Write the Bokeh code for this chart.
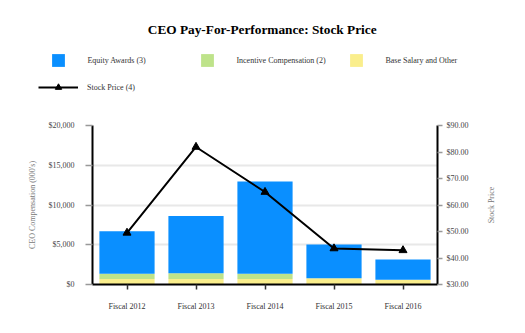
import math
from bokeh.plotting import figure
from bokeh.layouts import column, row
from bokeh.models import (ColumnDataSource, Range1d, LinearAxis, SingleIntervalTicker,
                          NumeralTickFormatter, Legend, LegendItem, Label)
from bokeh.embed import file_html
from bokeh.resources import INLINE

categories = ["Fiscal 2012", "Fiscal 2013", "Fiscal 2014", "Fiscal 2015", "Fiscal 2016"]
base_salary = [700, 700, 700, 800, 600]
incentive = [650, 700, 650, 0, 0]
equity = [5350, 7230, 11600, 4230, 2540]
stock_price = [49.5, 81.9, 64.9, 43.6, 42.9]

FONT = "Liberation Serif"
BLUE = "#0A8FFF"
GREEN = "#BEE38A"
YELLOW = "#FAEE8C"

source = ColumnDataSource(data=dict(cat=categories, base=base_salary,
                                    incentive=incentive, equity=equity,
                                    price=stock_price))

# ---------------- main chart ----------------
p = figure(width=480, height=223, x_range=categories, y_range=Range1d(0, 20000),
           output_backend="svg", toolbar_location=None,
           min_border_left=92, min_border_right=43, min_border_top=15,
           min_border_bottom=49)
p.frame_align = False
p.outline_line_color = None
p.xgrid.grid_line_color = None
p.ygrid.grid_line_color = "#e8e8e8"
p.ygrid.grid_line_width = 2

p.extra_y_ranges = {"price": Range1d(30, 90)}

bars = p.vbar_stack(["base", "incentive", "equity"], x="cat", width=0.8, source=source,
                    color=[YELLOW, GREEN, BLUE], line_color=None)

p.line(x="cat", y="price", source=source, y_range_name="price",
       line_color="black", line_width=2)
p.scatter(x="cat", y="price", source=source, y_range_name="price",
          marker="triangle", size=8, fill_color="black", line_color="black")

ya = p.yaxis[0]
ya.ticker = SingleIntervalTicker(interval=5000)
ya.formatter = NumeralTickFormatter(format="$0,0")
ya.axis_label = "CEO Compensation (000's)"
ya.axis_line_color = "black"
ya.axis_line_width = 2
ya.major_tick_in = 0
ya.major_tick_out = 7
ya.major_tick_line_color = "#999999"
ya.major_tick_line_width = 1.5
ya.minor_tick_line_color = None
ya.major_label_standoff = 11
ya.major_label_text_font = FONT
ya.major_label_text_font_size = "8px"
ya.major_label_text_color = "#444444"
ya.axis_label_text_font = FONT
ya.axis_label_text_font_size = "8px"
ya.axis_label_text_font_style = "normal"
ya.axis_label_text_color = "#777777"
ya.axis_label_standoff = 9

ra = LinearAxis(y_range_name="price", ticker=SingleIntervalTicker(interval=10),
                formatter=NumeralTickFormatter(format="$0.00"))
ra.axis_line_color = "black"
ra.axis_line_width = 2
ra.major_tick_in = 0
ra.major_tick_out = 5
ra.major_tick_line_color = "#999999"
ra.major_tick_line_width = 1.5
ra.minor_tick_line_color = None
ra.major_label_standoff = 4
ra.major_label_text_font = FONT
ra.major_label_text_font_size = "8px"
ra.major_label_text_color = "#444444"
p.add_layout(ra, "right")

xa = p.xaxis[0]
xa.axis_line_color = "black"
xa.axis_line_width = 2
xa.major_tick_in = 0
xa.major_tick_out = 5
xa.major_tick_line_color = "#333333"
xa.major_tick_line_width = 1.5
xa.major_label_standoff = 12
xa.major_label_text_font = FONT
xa.major_label_text_font_size = "8px"
xa.major_label_text_color = "#333333"

# ---------------- right side: secondary axis title ----------------
s = figure(width=45, height=223, x_range=Range1d(0, 1), y_range=Range1d(0, 1),
           output_backend="svg", toolbar_location=None,
           x_axis_location=None, y_axis_location=None,
           min_border_left=0, min_border_right=0, min_border_top=0, min_border_bottom=0)
s.frame_align = False
s.grid.visible = False
s.outline_line_color = None
s.add_layout(Label(x=11, y=128.5, x_units="screen", y_units="screen", angle=math.pi / 2,
                   text="Stock Price", text_align="center", text_baseline="middle",
                   text_font=FONT, text_font_size="8px", text_color="#777777"))

# ---------------- header: title + legend ----------------
h = figure(width=525, height=110, x_range=Range1d(0, 1), y_range=Range1d(0, 1),
           output_backend="svg", toolbar_location=None,
           x_axis_location=None, y_axis_location=None,
           min_border_left=0, min_border_right=0, min_border_top=0, min_border_bottom=0)
h.frame_align = False
h.grid.visible = False
h.outline_line_color = None

dummy = ColumnDataSource(data=dict(x=[-10], y=[-10], t=[-10]))
r_eq = h.vbar(x="x", top="t", width=0.1, source=dummy, color=BLUE, line_color=None)
r_in = h.vbar(x="x", top="t", width=0.1, source=dummy, color=GREEN, line_color=None)
r_bs = h.vbar(x="x", top="t", width=0.1, source=dummy, color=YELLOW, line_color=None)
r_ln = h.line(x="x", y="y", source=dummy, line_color="black", line_width=2)
r_mk = h.scatter(x="x", y="y", source=dummy, marker="triangle",
                 fill_color="black", line_color="black")

leg1 = Legend(items=[LegendItem(label="Equity Awards (3)", renderers=[r_eq]),
                     LegendItem(label="Incentive Compensation (2)", renderers=[r_in]),
                     LegendItem(label="Base Salary and Other", renderers=[r_bs])],
              orientation="horizontal", location=(50.4, 42),
              glyph_width=16, glyph_height=16, label_standoff=21, label_width=112,
              spacing=0, padding=0, margin=0,
              border_line_color=None, background_fill_alpha=0,
              label_text_font=FONT, label_text_font_size="8px", label_text_color="#333333")
leg2 = Legend(items=[LegendItem(label="Stock Price (4)", renderers=[r_ln, r_mk])],
              orientation="horizontal", location=(38, 15),
              glyph_width=40, glyph_height=16, label_standoff=9,
              spacing=0, padding=0, margin=0,
              border_line_color=None, background_fill_alpha=0,
              label_text_font=FONT, label_text_font_size="8px", label_text_color="#333333")
h.add_layout(leg1, "center")
h.add_layout(leg2, "center")

h.add_layout(Label(x=261.7, y=80.7, x_units="screen", y_units="screen",
                   text="CEO Pay-For-Performance: Stock Price", text_align="center",
                   text_baseline="alphabetic", text_font=FONT, text_font_size="13.3px",
                   text_font_style="bold", text_color="black"))

layout = column(h, row(p, s, spacing=0), spacing=0)
open("out.html", "w").write(file_html(layout, INLINE))
